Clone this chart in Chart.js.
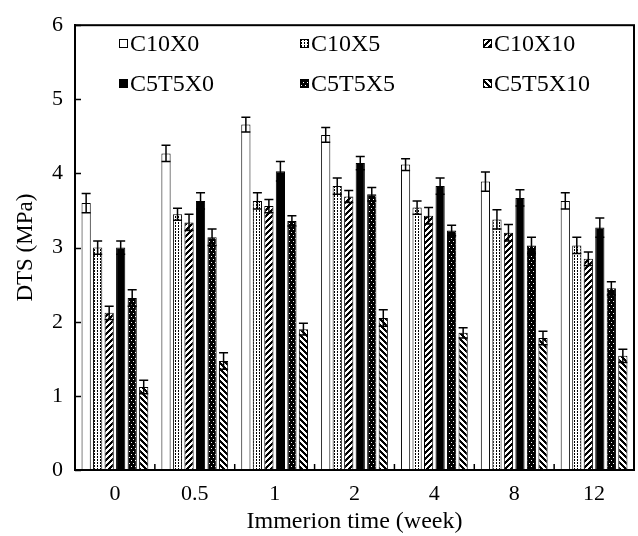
<!DOCTYPE html>
<html><head><meta charset="utf-8">
<script src="https://cdn.jsdelivr.net/npm/chart.js@4/dist/chart.umd.min.js"></script>
<style>html,body{margin:0;padding:0;background:#fff;}#wrap{width:638px;height:536px;position:relative;}</style>
</head><body><div id="wrap"><canvas id="c"></canvas></div>
<script>
const categories = ['0', '0.5', '1', '2', '4', '8', '12'];
const seriesNames = ['C10X0', 'C10X5', 'C10X10', 'C5T5X0', 'C5T5X5', 'C5T5X10'];
const C10X0   = [3.60, 4.27, 4.66, 4.52, 4.12, 3.89, 3.63];
const C10X5   = [3.00, 3.45, 3.63, 3.83, 3.54, 3.38, 3.03];
const C10X10  = [2.12, 3.34, 3.56, 3.69, 3.43, 3.20, 2.85];
const C5T5X0  = [3.00, 3.63, 4.03, 4.14, 3.83, 3.67, 3.27];
const C5T5X5  = [2.32, 3.14, 3.36, 3.72, 3.23, 3.03, 2.45];
const C5T5X10 = [1.12, 1.47, 1.90, 2.05, 1.85, 1.78, 1.54];
const err_C10X0   = [0.13, 0.11, 0.10, 0.10, 0.08, 0.13, 0.11];
const err_C10X5   = [0.09, 0.08, 0.11, 0.11, 0.09, 0.13, 0.11];
const err_C10X10  = [0.09, 0.11, 0.09, 0.08, 0.11, 0.11, 0.09];
const err_C5T5X0  = [0.09, 0.11, 0.13, 0.09, 0.11, 0.11, 0.13];
const err_C5T5X5  = [0.11, 0.11, 0.07, 0.09, 0.07, 0.11, 0.09];
const err_C5T5X10 = [0.09, 0.11, 0.08, 0.11, 0.07, 0.09, 0.09];
const yTickValues = [0, 1, 2, 3, 4, 5, 6];
const yTitle = 'DTS (MPa)';
const xTitle = 'Immerion time (week)';

const FONT = "'Liberation Serif', 'Times New Roman', serif";
const canvas = document.getElementById('c');
const mainCtx = canvas.getContext('2d');

function pixelPattern(w, h, bg, fg, test) {
  const c = document.createElement('canvas');
  c.width = w; c.height = h;
  const x = c.getContext('2d');
  x.fillStyle = bg; x.fillRect(0, 0, w, h);
  x.fillStyle = fg;
  for (let i = 0; i < w; i++) for (let j = 0; j < h; j++) if (test(i, j)) x.fillRect(i, j, 1, 1);
  return mainCtx.createPattern(c, 'repeat');
}
const fills = [
  '#ffffff',
  pixelPattern(3, 3, '#ffffff', '#000000', (i, j) => i === 1 && j !== 2),
  pixelPattern(6, 6, '#ffffff', '#000000', (i, j) => ((i + j) % 6) < 3),
  '#000000',
  pixelPattern(4, 6, '#000000', '#ffffff', (i, j) => (i === 1 && j === 1) || (i === 3 && j === 4)),
  pixelPattern(6, 6, '#ffffff', '#000000', (i, j) => (((i - j) % 6) + 6) % 6 < 3)
];
const values = [C10X0, C10X5, C10X10, C5T5X0, C5T5X5, C5T5X10];
const errors = [err_C10X0, err_C10X5, err_C10X10, err_C5T5X0, err_C5T5X5, err_C5T5X10];

const datasets = seriesNames.map((n, i) => ({
  label: n,
  data: values[i],
  errors: errors[i],
  backgroundColor: fills[i],
  borderColor: '#000000',
  borderWidth: 1,
  borderSkipped: false,
  categoryPercentage: 0.865,
  barPercentage: 0.8
}));

const errorBars = {
  id: 'errorBars',
  afterDatasetsDraw(chart) {
    const ctx = chart.ctx, ys = chart.scales.y;
    ctx.save();
    ctx.strokeStyle = '#000'; ctx.lineWidth = 1.5;
    chart.data.datasets.forEach((ds, i) => {
      const meta = chart.getDatasetMeta(i);
      meta.data.forEach((bar, j) => {
        const v = ds.data[j], e = ds.errors[j];
        const yt = ys.getPixelForValue(v + e), yb = ys.getPixelForValue(v - e);
        const x = bar.x, hw = 4.5;
        ctx.beginPath();
        ctx.moveTo(x, yt); ctx.lineTo(x, yb);
        ctx.moveTo(x - hw, yt); ctx.lineTo(x + hw, yt);
        ctx.moveTo(x - hw, yb); ctx.lineTo(x + hw, yb);
        ctx.stroke();
      });
    });
    ctx.restore();
  }
};

const frame = {
  id: 'frame',
  afterDraw(chart) {
    const ctx = chart.ctx, a = chart.chartArea, ys = chart.scales.y, xs = chart.scales.x;
    ctx.save();
    ctx.strokeStyle = '#000'; ctx.lineWidth = 2;
    ctx.strokeRect(a.left, a.top, a.right - a.left, a.bottom - a.top);
    ctx.lineWidth = 1.5;
    ctx.beginPath();
    yTickValues.forEach(v => {
      const y = Math.round(ys.getPixelForValue(v)) + 0.5;
      ctx.moveTo(a.left, y); ctx.lineTo(a.left + 6, y);
    });
    const n = categories.length;
    for (let k = 1; k < n; k++) {
      const x = (xs.getPixelForValue(k - 1) + xs.getPixelForValue(k)) / 2;
      ctx.moveTo(x, a.bottom); ctx.lineTo(x, a.bottom - 6);
    }
    ctx.stroke();
    // legend
    const cols = [119, 300, 483];
    const rows = [43.5, 83.5];
    ctx.font = "24px " + FONT;
    ctx.textBaseline = 'middle';
    ctx.textAlign = 'left';
    chart.data.datasets.forEach((ds, i) => {
      const c = i % 3, r = Math.floor(i / 3);
      const bx = cols[c], by = rows[r] - 4.5;
      ctx.fillStyle = ds.backgroundColor;
      ctx.fillRect(bx, by, 9, 9);
      ctx.lineWidth = 1; ctx.strokeStyle = '#000';
      ctx.strokeRect(bx + 0.5, by + 0.5, 8, 8);
      ctx.fillStyle = '#000';
      ctx.fillText(ds.label, bx + 11, rows[r] + 1);
    });
    ctx.restore();
  }
};

new Chart(canvas, {
  type: 'bar',
  data: { labels: categories, datasets },
  options: {
    responsive: true,
    maintainAspectRatio: false,
    animation: false,
    layout: { padding: { left: 0, right: 4, top: 20, bottom: 0 } },
    plugins: { legend: { display: false }, tooltip: { enabled: false } },
    scales: {
      x: {
        grid: { display: false, drawTicks: false },
        border: { display: true, color: '#000', width: 2 },
        ticks: { color: '#000', font: { family: FONT, size: 22 }, padding: 11, maxRotation: 0 },
        title: { display: true, text: xTitle, color: '#000', font: { family: FONT, size: 24 }, padding: { top: 0, bottom: 0 } },
        afterFit(s) { s.height = 66; }
      },
      y: {
        min: 0, max: 6,
        afterBuildTicks(s) { s.ticks = yTickValues.map(v => ({ value: v })); },
        grid: { display: false, drawTicks: false },
        border: { display: true, color: '#000', width: 2 },
        ticks: { color: '#000', font: { family: FONT, size: 22 }, padding: 12 },
        title: { display: true, text: yTitle, color: '#000', font: { family: FONT, size: 23 }, padding: { top: 12, bottom: 0 } },
        afterFit(s) { s.width = 75; }
      }
    }
  },
  plugins: [errorBars, frame]
});
</script></body></html>
